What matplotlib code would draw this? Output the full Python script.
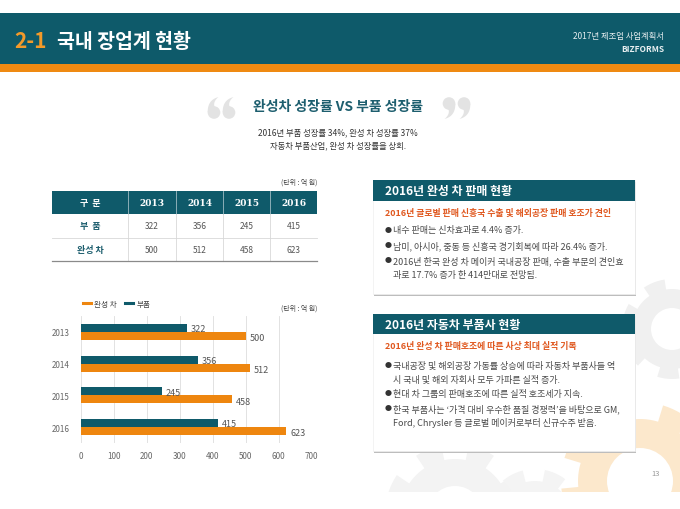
import numpy as np
import matplotlib
matplotlib.use("Agg")
import matplotlib.pyplot as plt
from matplotlib.patches import Rectangle, Polygon, Circle
from matplotlib.lines import Line2D

plt.rcParams['font.family'] = ['Noto Sans CJK KR', 'DejaVu Sans']

# ---- data ----
years = ['2013', '2014', '2015', '2016']
parts = [322, 356, 245, 415]          # 부품
cars = [500, 512, 458, 623]           # 완성 차
row_names = ['부  품', '완성 차']
x_ticks = [0, 100, 200, 300, 400, 500, 600, 700]

TEAL = '#0f5a6a'
ORANGE = '#ee860f'
RED = '#e0581f'
GRAY = '#555555'

fig = plt.figure(figsize=(6.8, 5.1), dpi=100)
bg = fig.add_axes([0, 0, 1, 1])
bg.set_xlim(0, 680)
bg.set_ylim(510, 0)
bg.axis('off')
bg.set_zorder(0)

def gear(cx, cy, r_body, r_tooth, r_hole, n, color, rot=0.0):
    pts = []
    steps = n * 4
    for i in range(steps):
        a0 = rot + 2 * np.pi * i / steps
        r = r_tooth if (i % 4) in (1, 2) else r_body
        for a in np.linspace(a0, a0 + 2 * np.pi / steps, 4):
            pts.append((cx + r * np.cos(a), cy + r * np.sin(a)))
    p = Polygon(pts, closed=True, facecolor=color, edgecolor='none', zorder=0.2)
    bg.add_patch(p)
    h = Circle((cx, cy), r_hole, facecolor='white', edgecolor='none', zorder=0.3)
    bg.add_patch(h)
    clip = Rectangle((0, 0), 680, 493, transform=bg.transData)
    p.set_clip_path(clip)
    h.set_clip_path(clip)

gear(672, 330, 40, 50, 21, 7, '#f0f0f0', 0.3)
gear(640, 482, 62, 79, 33, 8, '#fce8cc', 0.1)
gear(455, 515, 55, 70, 28, 8, '#f3f3f3')
gear(535, 520, 38, 50, 18, 7, '#f4f4f4', 0.2)

def bez(p0, p1, p2, n=20):
    t = np.linspace(0, 1, n)[:, None]
    p0, p1, p2 = map(np.array, (p0, p1, p2))
    return (1 - t) ** 2 * p0 + 2 * (1 - t) * t * p1 + t ** 2 * p2

def quote_blob(cx, cy, r, flip, color='#e3e3e3'):
    s = -1 if flip else 1
    outer = bez((cx - s * r, cy), (cx - s * 1.05 * r, cy - s * 2.0 * r), (cx + s * 0.7 * r, cy - s * 2.45 * r))
    inner = bez((cx + s * 0.7 * r, cy - s * 2.45 * r), (cx - s * 0.2 * r, cy - s * 1.7 * r), (cx + s * 0.1 * r, cy - s * 0.9 * r))
    pts = np.vstack([outer, inner])
    bg.add_patch(Polygon(pts, closed=True, facecolor=color, edgecolor='none', zorder=1))
    bg.add_patch(Circle((cx, cy), r, facecolor=color, edgecolor='none', zorder=1))

# ---- header ----
bg.add_patch(Rectangle((0, 14), 680, 51, facecolor='#0e5a6a', edgecolor='none', zorder=1))
bg.add_patch(Rectangle((0, 65), 680, 8, facecolor='#ef8a12', edgecolor='none', zorder=1))
bg.text(14, 42, '2-1', color='#f39a2a', fontsize=15, fontweight='bold', va='center', ha='left', zorder=2)
bg.text(57, 42, '국내 장업계 현황', color='white', fontsize=14, fontweight='bold', va='center', ha='left', zorder=2)
bg.text(664, 36, '2017년 제조업 사업계획서', color='#e6eef0', fontsize=6, va='center', ha='right', zorder=2)
bg.text(664, 49, 'BIZFORMS', color='#e6eef0', fontsize=6, fontweight='bold', va='center', ha='right', zorder=2)

# ---- quote section ----
quote_blob(214, 113.5, 6.3, False)
quote_blob(229, 113.5, 6.3, False)
quote_blob(449, 104.5, 6.3, True)
quote_blob(464, 104.5, 6.3, True)
bg.text(338, 107, '완성차 성장률 VS 부품 성장률', color='#1d5e6e', fontsize=10, fontweight='bold',
        ha='center', va='center', zorder=2)
bg.text(338, 133, '2016년 부품 성장률 34%, 완성 차 성장률 37%', color='#333333', fontsize=6,
        ha='center', va='center', zorder=2)
bg.text(338, 146, '자동차 부품산업, 완성 차 성장률을 상회.', color='#333333', fontsize=6,
        ha='center', va='center', zorder=2)

# ---- table ----
col_x = [52, 128, 176, 223, 270, 317]
row_y = [192, 215, 238.5, 262]
bg.text(317, 183, '(단위 : 억 원)', color='#444444', fontsize=5, ha='right', va='center', zorder=2)
bg.add_patch(Rectangle((col_x[0], row_y[0]), col_x[-1] - col_x[0], row_y[1] - row_y[0],
                       facecolor=TEAL, edgecolor='none', zorder=1))
for xv in col_x[1:-1]:
    bg.plot([xv, xv], [row_y[0], row_y[1]], color='#9fbcc3', lw=0.6, zorder=1.5)
    bg.plot([xv, xv], [row_y[1], row_y[3]], color='#d8d8d8', lw=0.6, zorder=1.5)
bg.plot([col_x[0], col_x[-1]], [row_y[2], row_y[2]], color='#d8d8d8', lw=0.6, zorder=1.5)
bg.plot([col_x[0], col_x[-1]], [row_y[3], row_y[3]], color='#8a8a8a', lw=0.9, zorder=1.5)
hy = (row_y[0] + row_y[1]) / 2
bg.text((col_x[0] + col_x[1]) / 2, hy, '구  분', color='white', fontsize=6.5, fontweight='bold',
        ha='center', va='center', zorder=2)
for i, yr in enumerate(years):
    bg.text((col_x[i + 1] + col_x[i + 2]) / 2, hy, yr, color='white', fontsize=6.5, fontweight='bold',
            family='DejaVu Serif', ha='center', va='center', zorder=2)
for r, (name, vals) in enumerate(zip(row_names, [parts, cars])):
    cy = (row_y[r + 1] + row_y[r + 2]) / 2
    bg.text((col_x[0] + col_x[1]) / 2, cy, name, color='#1d5e6e', fontsize=6.5, fontweight='bold',
            ha='center', va='center', zorder=2)
    for i, v in enumerate(vals):
        bg.text((col_x[i + 1] + col_x[i + 2]) / 2, cy, str(v), color=GRAY, fontsize=6,
                ha='center', va='center', zorder=2)

# ---- bar chart ----
ax = fig.add_axes([80.7 / 680, 1 - 444 / 510, 231 / 680, 127 / 510])
ax.set_zorder(2)
ax.set_facecolor('none')
yp = np.arange(len(years))
h = 0.25
ax.barh(yp - h / 2, parts, height=h, color=TEAL, zorder=3)
ax.barh(yp + h / 2, cars, height=h, color=ORANGE, zorder=3)
for i in range(len(years)):
    ax.text(parts[i] + 12, yp[i] - h / 2 + 0.02, str(parts[i]), color=GRAY, fontsize=6.5,
            ha='left', va='center', zorder=4)
    ax.text(cars[i] + 12, yp[i] + h / 2 + 0.06, str(cars[i]), color=GRAY, fontsize=6.5,
            ha='left', va='center', zorder=4)
ax.set_xlim(0, 700)
ax.set_ylim(3.5, -0.5)
ax.set_xticks(x_ticks)
ax.set_xticklabels([str(t) for t in x_ticks])
ax.set_yticks(yp)
ax.set_yticklabels(years)
ax.tick_params(axis='both', length=0, labelsize=5.8, labelcolor='#666666')
ax.tick_params(axis='x', pad=6)
ax.tick_params(axis='y', pad=8)
ax.grid(axis='x', color='#dddddd', lw=0.6, zorder=0)
for s in ax.spines.values():
    s.set_visible(False)

handles = [Line2D([0], [0], color=ORANGE, lw=2.2), Line2D([0], [0], color=TEAL, lw=2.2)]
fig.legend(handles, ['완성 차', '부품'], loc='center left', bbox_to_anchor=(76 / 680, 1 - 305 / 510),
           ncol=2, frameon=False, fontsize=5.5, handlelength=1.1, handletextpad=0.4,
           columnspacing=1.0, labelcolor='#444444')
bg.text(317, 309, '(단위 : 억 원)', color='#444444', fontsize=5, ha='right', va='center', zorder=2)

# ---- right boxes ----
def box(y0, y1, hy1, title, sub, lines):
    bg.add_patch(Rectangle((374, y0 + 2), 262, y1 - y0, facecolor='#bdbdbd', edgecolor='none', zorder=0.9))
    bg.add_patch(Rectangle((373, y0), 262, y1 - y0, facecolor='white', edgecolor='#eeeeee', lw=0.5, zorder=1))
    bg.add_patch(Rectangle((373, y0), 262, hy1 - y0, facecolor=TEAL, edgecolor='none', zorder=1.1))
    bg.text(385, (y0 + hy1) / 2 + 0.5, title, color='white', fontsize=8.6, fontweight='bold',
            ha='left', va='center', zorder=2)
    bg.text(385, hy1 + 11.5, sub, color=RED, fontsize=6.4, fontweight='bold',
            ha='left', va='center', zorder=2)
    for (yy, txt, bullet) in lines:
        if bullet:
            bg.text(385, yy, '\u25cf', color='#333333', fontsize=5, ha='left', va='center', zorder=2)
        bg.text(393, yy, txt, color='#4a4a4a', fontsize=6.5, ha='left', va='center', zorder=2)

box(181, 295, 202, '2016년 완성 차 판매 현황',
    '2016년 글로벌 판매 신흥국 수출 및 해외공장 판매 호조가 견인',
    [(231, '내수 판매는 신차효과로 4.4% 증가.', True),
     (246, '남미, 아시아, 중동 등 신흥국 경기회복에 따라 26.4% 증가.', True),
     (261, '2016년 한국 완성 차 메이커 국내공장 판매, 수출 부문의 견인효', True),
     (276, '과로 17.7% 증가 한 414만대로 전망됨.', False)])

box(315, 452, 335, '2016년 자동차 부품사 현황',
    '2016년 완성 차 판매호조에 따른 사상 최대 실적 기록',
    [(366, '국내공장 및 해외공장 가동률 상승에 따라 자동차 부품사들 역', True),
     (380, '시 국내 및 해외 자회사 모두 가파른 실적 증가.', False),
     (394, '현대 차 그룹의 판매호조에 따른 실적 호조세가 지속.', True),
     (409, '한국 부품사는 \u2018가격 대비 우수한 품질 경쟁력\u2019을 바탕으로 GM,', True),
     (423, 'Ford, Chrysler 등 글로벌 메이커로부터 신규수주 받음.', False)])

bg.text(660, 474, '13', color='#999999', fontsize=5.5, ha='right', va='center', zorder=2)

fig.savefig('out.png', dpi=100)
